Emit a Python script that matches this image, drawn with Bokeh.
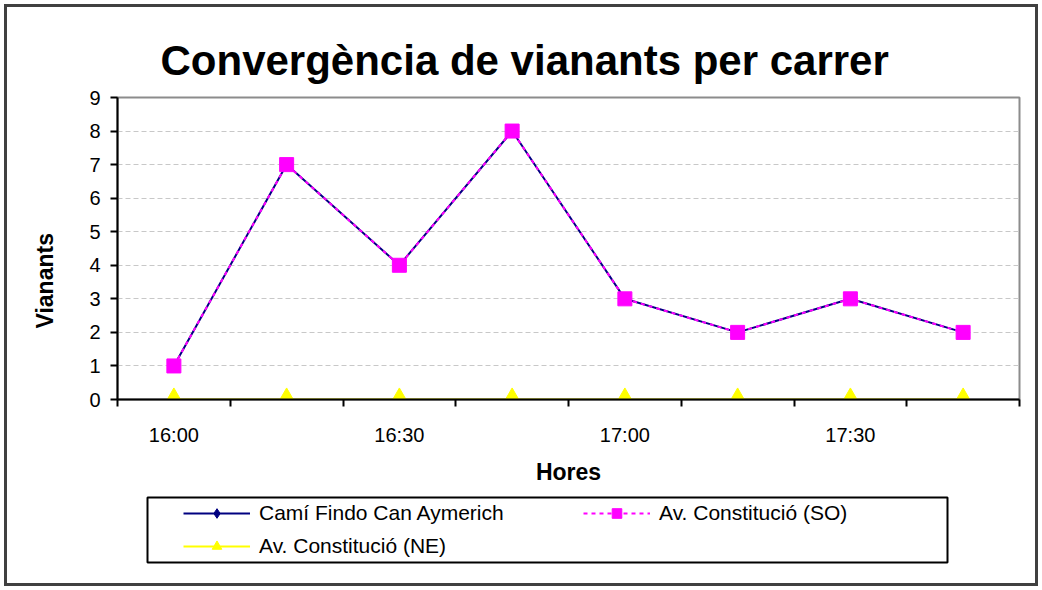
from bokeh.plotting import figure
from bokeh.layouts import column
from bokeh.models import (ColumnDataSource, FixedTicker, Range1d, Legend, LegendItem, Title,
                          BoxAnnotation)
from bokeh.embed import file_html
from bokeh.resources import INLINE

# ---- data ----
times = ["16:00", "16:15", "16:30", "16:45", "17:00", "17:15", "17:30", "17:45"]
cami = [1, 7, 4, 8, 3, 2, 3, 2]
av_so = [1, 7, 4, 8, 3, 2, 3, 2]
av_ne = [0, 0, 0, 0, 0, 0, 0, 0]
y_ticks = [0, 1, 2, 3, 4, 5, 6, 7, 8, 9]
title_text = "Convergència de vianants per carrer"
x_title = "Hores"
y_title = "Vianants"
names = ["Camí Findo Can Aymerich", "Av. Constitució (SO)", "Av. Constitució (NE)"]

xpos = [i + 0.5 for i in range(len(times))]
src = ColumnDataSource(dict(x=xpos, cami=cami, so=av_so, ne=av_ne))

FONT = "Liberation Sans"
W = 1042
H1, H2 = 490, 100
FL, FR, FT, FB = 117, 23, 97, 91  # frame borders of the chart

p = figure(width=W, height=H1, output_backend="svg", toolbar_location=None,
           x_range=Range1d(0, len(times)), y_range=Range1d(0, 9),
           min_border_left=FL, min_border_right=FR, min_border_top=FT,
           min_border_bottom=FB)
p.background_fill_color = "white"
p.border_fill_color = None
p.outline_line_color = "#8c8c8c"
p.outline_line_width = 2

# title
p.title.text = title_text
p.title.text_font = FONT
p.title.text_font_size = "42px"
p.title.text_font_style = "bold"
p.title.text_color = "black"
p.title.align = "left"
p.title.offset = 43
p.title.standoff = 28

# axes
ax = p.xaxis[0]
ax.ticker = FixedTicker(ticks=xpos[::2], minor_ticks=list(range(len(times) + 1)))
ax.major_label_overrides = {xpos[i]: times[i] for i in range(0, len(times), 2)}
ax.major_tick_out = 0
ax.major_tick_in = 0
ax.minor_tick_out = 7
ax.minor_tick_in = 0
ax.minor_tick_line_color = "black"
ax.minor_tick_line_width = 2
ax.axis_line_color = "black"
ax.axis_line_width = 2
ax.major_label_text_font = FONT
ax.major_label_text_font_size = "20px"
ax.major_label_text_color = "black"
ax.major_label_standoff = 17
ax.axis_label = x_title
ax.axis_label_text_font = FONT
ax.axis_label_text_font_size = "23px"
ax.axis_label_text_font_style = "bold"
ax.axis_label_text_color = "black"
ax.axis_label_standoff = 10

ay = p.yaxis[0]
ay.ticker = FixedTicker(ticks=y_ticks)
ay.major_tick_out = 7
ay.major_tick_in = 0
ay.minor_tick_out = 0
ay.minor_tick_in = 0
ay.major_tick_line_color = "black"
ay.major_tick_line_width = 2
ay.axis_line_color = "black"
ay.axis_line_width = 2
ay.major_label_text_font = FONT
ay.major_label_text_font_size = "20px"
ay.major_label_text_color = "black"
ay.major_label_standoff = 10

p.xgrid.visible = False
p.ygrid.grid_line_color = "#c8c8c8"
p.ygrid.grid_line_dash = "5 3"
p.ygrid.grid_line_width = 1

# y title (Excel places it lower than the frame centre)
p.add_layout(Title(text=y_title, align="left", offset=71, standoff=58,
                   text_font=FONT, text_font_size="23px", text_font_style="bold",
                   text_color="black"), "left")

# series
def draw(fig):
    l1 = fig.line("x", "cami", source=src, line_color="#000080", line_width=2)
    m1 = fig.scatter("x", "cami", source=src, marker="diamond", size=11, color="#000080")
    l3 = fig.line("x", "ne", source=src, line_color="#FFFF00", line_width=2)
    l2 = fig.line("x", "so", source=src, line_color="#FF00FF", line_width=2, line_dash="4 4")
    m2 = fig.scatter("x", "so", source=src, marker="square", size=14, color="#FF00FF")
    m3 = fig.scatter("x", "ne", source=src, marker="triangle", size=20, color="#FFFF00")
    return (l1, m1), (l2, m2), (l3, m3)

draw(p)

# legend strip below the chart (same series, data kept out of its view)
q = figure(width=W, height=H2, output_backend="svg", toolbar_location=None,
           x_range=Range1d(0, len(times)), y_range=Range1d(100, 101),
           x_axis_type=None, y_axis_type=None,
           min_border_left=0, min_border_right=0, min_border_top=0, min_border_bottom=0)
q.background_fill_color = None
q.border_fill_color = None
q.outline_line_color = None
q.xgrid.visible = False
q.ygrid.visible = False
r1, r2, r3 = draw(q)

# frames of the two plots are aligned by the column, so the strip's frame starts at x=117
q.add_layout(BoxAnnotation(left=30, right=830, top=93, bottom=28,
                           left_units="screen", right_units="screen",
                           top_units="screen", bottom_units="screen",
                           fill_alpha=0, line_color="black", line_alpha=1, line_width=2))

legend = Legend(items=[LegendItem(label=names[0], renderers=list(r1)),
                       LegendItem(label=names[1], renderers=list(r2)),
                       LegendItem(label=names[2], renderers=list(r3))],
                location=(62, 28), orientation="horizontal", ncols=2,
                glyph_width=67, glyph_height=24, label_height=24, label_standoff=9,
                label_width=315, spacing=9, padding=4, margin=0,
                border_line_alpha=0, background_fill_alpha=0,
                label_text_font=FONT, label_text_font_size="21px",
                label_text_color="black", label_text_baseline="middle")
q.add_layout(legend, "center")

layout = column(p, q, spacing=0)
layout.styles = {"outline": "3px solid #404040", "outline-offset": "-7px",
                 "background-color": "white"}

open("out.html", "w").write(file_html(layout, INLINE))
